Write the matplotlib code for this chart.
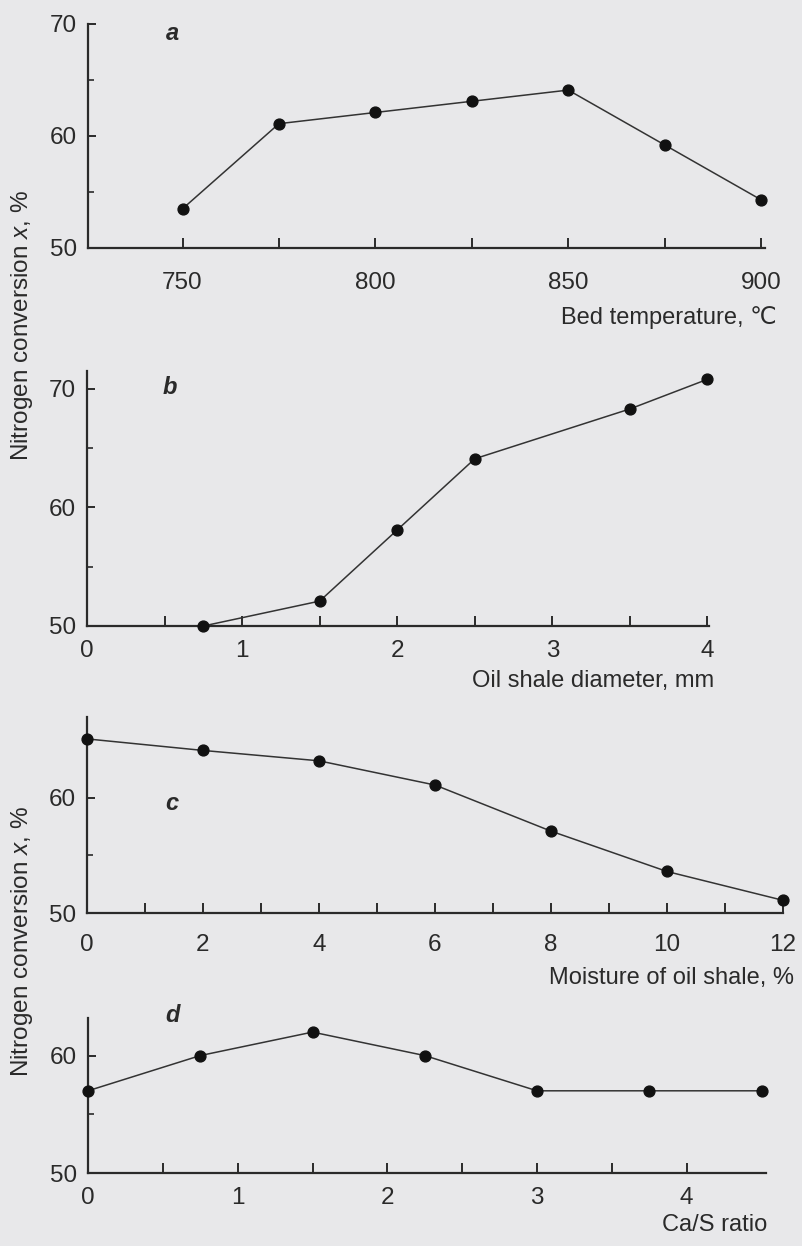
import matplotlib
matplotlib.use("Agg")
import matplotlib.pyplot as plt
from matplotlib.ticker import FixedLocator

# panel a: bed temperature
temp = [750, 775, 800, 825, 850, 875, 900]
conv_temp = [53.5, 61.1, 62.1, 63.1, 64.1, 59.2, 54.3]
# panel b: oil shale diameter
diam = [0.75, 1.5, 2.0, 2.5, 3.5, 4.0]
conv_diam = [50.0, 52.1, 58.1, 64.1, 68.3, 70.8]
# panel c: moisture
moist = [0, 2, 4, 6, 8, 10, 12]
conv_moist = [65.1, 64.1, 63.2, 61.1, 57.1, 53.6, 51.1]
# panel d: Ca/S ratio
ca_s = [0, 0.75, 1.5, 2.25, 3.0, 3.75, 4.5]
conv_ca_s = [57.0, 60.0, 62.0, 60.0, 57.0, 57.0, 57.0]

W, H = 803, 1246
BG = "#e8e8ea"
INK = "#2a2a2a"
NARROW = ["Liberation Sans Narrow", "Liberation Sans", "DejaVu Sans"]

plt.rcParams["mathtext.fontset"] = "custom"
plt.rcParams["mathtext.rm"] = "Liberation Sans"
plt.rcParams["mathtext.it"] = "Liberation Sans:italic"

fig = plt.figure(figsize=(W / 100, H / 100), dpi=100, facecolor=BG)


def px_axes(l, r, t, b):
    return fig.add_axes([l / W, 1 - b / H, (r - l) / W, (b - t) / H])


def style(ax, xlim, ylim, xmaj, xmin, ymaj, ymin, xlabels, xpad):
    ax.set_facecolor("none")
    ax.set_xlim(*xlim)
    ax.set_ylim(*ylim)
    for s in ("top", "right"):
        ax.spines[s].set_visible(False)
    for s in ("left", "bottom"):
        ax.spines[s].set_linewidth(1.6)
        ax.spines[s].set_color(INK)
    ax.xaxis.set_major_locator(FixedLocator(xmaj))
    ax.xaxis.set_minor_locator(FixedLocator(xmin))
    ax.yaxis.set_major_locator(FixedLocator(ymaj))
    ax.yaxis.set_minor_locator(FixedLocator(ymin))
    ax.set_xticklabels(xlabels)
    ax.tick_params(axis="x", which="both", direction="in", length=7.5, width=1.4,
                   color=INK, pad=xpad, labelsize=17.5, labelcolor=INK)
    ax.tick_params(axis="y", which="major", direction="in", length=6, width=1.4,
                   color=INK, pad=8, labelsize=17.5, labelcolor=INK)
    ax.tick_params(axis="y", which="minor", direction="in", length=4, width=1.2,
                   color=INK)
    for lab in ax.get_xticklabels() + ax.get_yticklabels():
        lab.set_family(NARROW)


def draw(ax, x, y):
    ax.plot(x, y, color="#333333", lw=1.1, marker="o", ms=7.8,
            mfc="#111111", mec="#111111", clip_on=False, zorder=3)


ax_a = px_axes(88, 765, 24, 248)
draw(ax_a, temp, conv_temp)
style(ax_a, (725.5, 901), (50, 70), [750, 800, 850, 900], [775, 825, 875],
      [50, 60, 70], [55, 65], ["750", "800", "850", "900"], 17)

ax_b = px_axes(87, 709, 371, 626)
draw(ax_b, diam, conv_diam)
style(ax_b, (0, 4.01), (50, 71.5), [0, 1, 2, 3, 4], [0.5, 1.5, 2.5, 3.5],
      [50, 60, 70], [55, 65], ["0", "1", "2", "3", "4"], 10)

ax_c = px_axes(87, 783, 717, 913)
draw(ax_c, moist, conv_moist)
style(ax_c, (0, 12), (50, 67), [0, 2, 4, 6, 8, 10, 12], [1, 3, 5, 7, 9, 11],
      [50, 60], [55, 65], ["0", "2", "4", "6", "8", "10", "12"], 15)

ax_d = px_axes(88, 766, 1018, 1173)
draw(ax_d, ca_s, conv_ca_s)
style(ax_d, (0, 4.53), (50, 63.2), [0, 1, 2, 3, 4], [0.5, 1.5, 2.5, 3.5],
      [50, 60], [55], ["0", "1", "2", "3", "4"], 10)


def ftext(x, y, s, **kw):
    fig.text(x / W, 1 - y / H, s, color=INK, **kw)


# x-axis titles, right aligned under each panel
ftext(777, 318, "Bed temperature, ℃", ha="right", va="center", fontsize=17, family=NARROW)
ftext(714, 681, "Oil shale diameter, mm", ha="right", va="center", fontsize=17, family=NARROW)
ftext(794, 978, "Moisture of oil shale, %", ha="right", va="center", fontsize=17, family=NARROW)
ftext(767, 1225, "Ca/S ratio", ha="right", va="center", fontsize=17, family=NARROW)

# panel letters
for x, y, s in [(172, 33, "a"), (170, 387, "b"), (172, 804, "c"), (173, 1015, "d")]:
    ftext(x, y, s, ha="center", va="center", fontsize=17, fontweight="bold",
          fontstyle="italic", family=["Liberation Sans", "DejaVu Sans"])

# shared y-axis titles
ylab = r"Nitrogen conversion $\it{x}$, %"
ftext(22, 326, ylab, rotation=90, ha="center", va="center", fontsize=17.5,
      family=["Liberation Sans", "DejaVu Sans"])
ftext(22, 942, ylab, rotation=90, ha="center", va="center", fontsize=17.5,
      family=["Liberation Sans", "DejaVu Sans"])

fig.savefig("out.png", dpi=100, facecolor=BG)
